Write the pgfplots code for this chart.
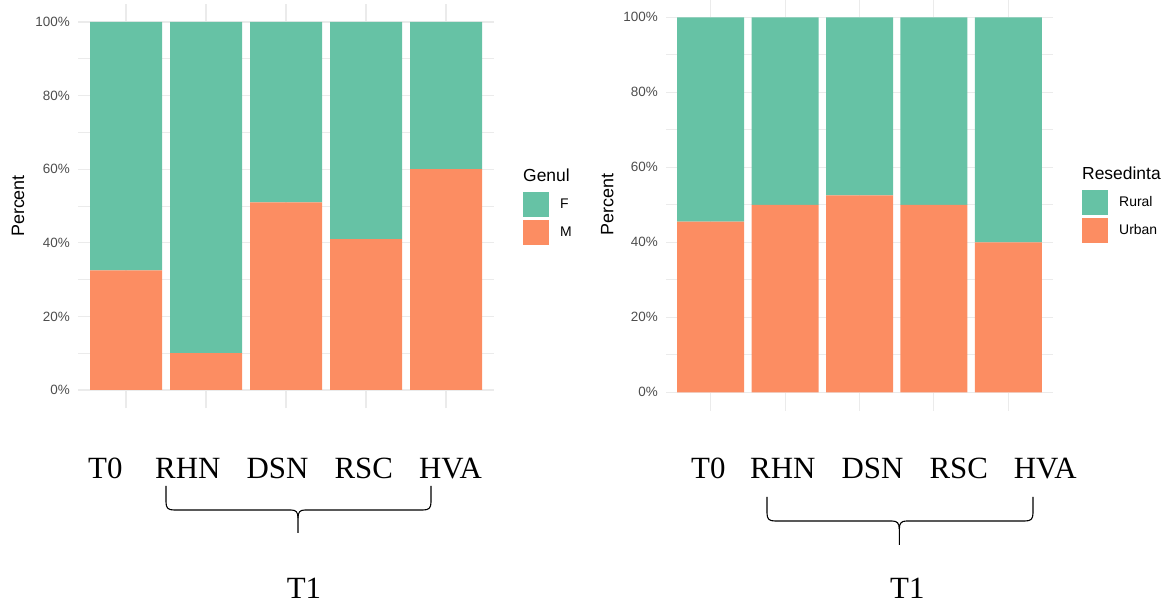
\documentclass[border=0pt]{standalone}
\usepackage{fontspec}
\setmainfont{Liberation Serif}
\newfontfamily\arial{Liberation Sans}
\usepackage{pgfplots}
\pgfplotsset{compat=1.18}
\definecolor{cF}{HTML}{66C2A5}
\definecolor{cM}{HTML}{FC8D62}
\definecolor{gridc}{HTML}{EBEBEB}
\definecolor{tickc}{HTML}{4D4D4D}

\pgfplotsset{
  ggbar/.style={
    scale only axis, anchor=south west,
    xmin=-0.6, xmax=4.6, ymin=-5, ymax=105,
    ybar stacked, bar width=0.9,
    xtick={0,1,2,3,4}, xticklabels={{},{},{},{},{}},
    ytick={0,20,40,60,80,100},
    yticklabels={0\%,20\%,40\%,60\%,80\%,100\%},
    minor ytick={10,30,50,70,90},
    xmajorgrids, ymajorgrids, yminorgrids,
    major grid style={draw=gridc, line width=1.1bp},
    minor grid style={draw=gridc, line width=0.6bp},
    axis line style={draw=none},
    major tick style={draw=none}, minor tick style={draw=none},
    yticklabel style={font=\arial\fontsize{13.5}{14}\selectfont, text=tickc, inner sep=0pt, xshift=-8bp},
    ylabel={Percent},
    ylabel style={font=\arial\fontsize{18}{20}\selectfont, anchor=center},
    legend cell align=left,
    legend image code/.code={\fill[##1, draw=none] (0bp,-12.5bp) rectangle (26bp,12.5bp); \path (37bp,0bp);},
    legend style={draw=none, fill=none, inner sep=0pt, row sep=3bp, column sep=0pt,
      font=\arial\fontsize{14}{15}\selectfont, anchor=north west, nodes={inner sep=0pt}},
  }
}

\begin{document}
\begin{tikzpicture}[x=1bp,y=1bp]
\path[use as bounding box] (0,0) rectangle (1173,604);

% ---------- left chart ----------
\begin{axis}[ggbar, at={(78bp,195.6bp)}, width=416bp, height=404.8bp,
  ylabel style={at={(axis description cs:-0.144,0.5)}},
  legend style={at={(axis description cs:1.0697,0.5346)}}]
\addlegendimage{fill=cF, draw=none}\addlegendentry{F}
\addlegendimage{fill=cM, draw=none}\addlegendentry{M}
\addplot[fill=cM, draw=none, forget plot] coordinates {(0,32.5) (1,10) (2,51) (3,41) (4,60)};
\addplot[fill=cF, draw=none, forget plot] coordinates {(0,67.5) (1,90) (2,49) (3,59) (4,40)};
\end{axis}
\node[anchor=west, inner sep=0pt, font=\arial\fontsize{17.5}{19}\selectfont] at (523,429) {Genul};

% ---------- right chart ----------
\begin{axis}[ggbar, at={(666bp,192.95bp)}, width=387bp, height=412.5bp,
  ylabel style={at={(axis description cs:-0.152,0.5)}},
  legend style={at={(axis description cs:1.0749,0.5359)}}]
\addlegendimage{fill=cF, draw=none}\addlegendentry{Rural}
\addlegendimage{fill=cM, draw=none}\addlegendentry{Urban}
\addplot[fill=cM, draw=none, forget plot] coordinates {(0,45.5) (1,50) (2,52.5) (3,50) (4,40)};
\addplot[fill=cF, draw=none, forget plot] coordinates {(0,54.5) (1,50) (2,47.5) (3,50) (4,60)};
\end{axis}
\node[anchor=west, inner sep=0pt, font=\arial\fontsize{17.5}{19}\selectfont] at (1082,431) {Resedinta};

% ---------- group labels ----------
\begin{scope}[every node/.style={anchor=base, inner sep=0pt, font=\fontsize{31}{31}\selectfont}]
\node at (105.3,125) {T0};
\node at (187.8,125) {RHN};
\node at (277.5,125) {DSN};
\node at (363.7,125) {RSC};
\node at (450.5,125) {HVA};
\node at (304,5.5) {T1};
\node at (708.3,125) {T0};
\node at (782.8,125) {RHN};
\node at (872.5,125) {DSN};
\node at (958.8,125) {RSC};
\node at (1045.3,125) {HVA};
\node at (907.3,5.5) {T1};
\end{scope}

% braces
\draw[line width=1.1bp] (166,118) -- (166,102) .. controls (166,96) and (168,94) .. (174,94) -- (291,94)
  .. controls (296,94) and (298,92) .. (298,86) -- (298,71);
\draw[line width=1.1bp] (298,86) .. controls (298,92) and (300,94) .. (305,94) -- (423,94)
  .. controls (429,94) and (431,96) .. (431,102) -- (431,118);
\draw[line width=1.1bp] (767,107) -- (767,91) .. controls (767,85) and (769,83) .. (775,83) -- (892,83)
  .. controls (897,83) and (899.3,81) .. (899.3,75) -- (899.3,59);
\draw[line width=1.1bp] (899.3,75) .. controls (899.3,81) and (901.5,83) .. (906.5,83) -- (1025,83)
  .. controls (1031,83) and (1033,85) .. (1033,91) -- (1033,107);
\end{tikzpicture}
\end{document}
